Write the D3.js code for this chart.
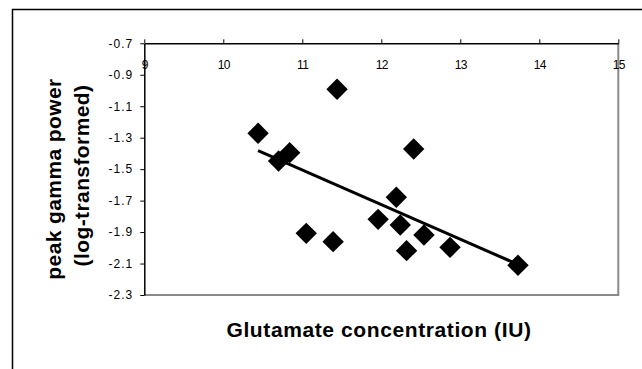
<!DOCTYPE html>
<html>
<head>
<meta charset="utf-8">
<script src="https://cdn.jsdelivr.net/npm/d3@7"></script>
<style>
  html, body { margin: 0; padding: 0; background: #fff; }
  svg { display: block; }
</style>
</head>
<body>
<svg id="chart" width="642" height="369"></svg>
<script>
// ---- data ----
const glutamate = [10.44, 10.70, 10.84, 11.44, 12.41, 11.05, 11.39, 12.19, 11.96, 12.24, 12.54, 12.32, 12.87, 13.73];
const gammaPower = [-1.272, -1.448, -1.395, -0.992, -1.372, -1.908, -1.961, -1.679, -1.819, -1.855, -1.919, -2.018, -1.997, -2.111];
const xTickValues = [9, 10, 11, 12, 13, 14, 15];
const xTickLabels = ["9", "10", "11", "12", "13", "14", "15"];
const yTickValues = [-0.7, -0.9, -1.1, -1.3, -1.5, -1.7, -1.9, -2.1, -2.3];
const yTickLabels = ["-0.7", "-0.9", "-1.1", "-1.3", "-1.5", "-1.7", "-1.9", "-2.1", "-2.3"];
const xTitle = "Glutamate concentration (IU)";
const yTitle1 = "peak gamma power";
const yTitle2 = "(log-transformed)";

(function () {
// ---- layout ----
const svg = d3.select("#chart");
const pL = 144.3, pR = 618.3, pT = 43.3, pB = 295;
const x = d3.scaleLinear().domain([9, 15]).range([pL, pR]);
const y = d3.scaleLinear().domain([-2.3, -0.7]).range([pB, pT]);
const font = "Arial, 'Liberation Sans', Helvetica, sans-serif";

// outer chart border
svg.append("path")
  .attr("d", `M12.5,369 L12.5,9.5 L642,9.5`)
  .attr("fill", "none").attr("stroke", "#000").attr("stroke-width", 1.5);

// plot area right/bottom border (grey)
svg.append("path")
  .attr("d", `M${pL},${pB} L${pR},${pB} L${pR},${pT}`)
  .attr("fill", "none").attr("stroke", "#8a8a8a").attr("stroke-width", 2);

// y axis
const yAxis = svg.append("g")
  .attr("transform", `translate(${pL},0)`)
  .call(d3.axisLeft(y).tickValues(yTickValues)
    .tickFormat((d, i) => yTickLabels[i]).tickSize(4).tickPadding(7).tickSizeOuter(0));
yAxis.select(".domain").attr("stroke", "#000").attr("stroke-width", 1.5);
yAxis.selectAll(".tick line").attr("stroke", "#000").attr("stroke-width", 1);
yAxis.selectAll("text").attr("font-family", font).attr("font-size", 12)
  .attr("letter-spacing", "1px").attr("fill", "#000");

// x axis (on top, labels inside)
const xAxis = svg.append("g")
  .attr("transform", `translate(0,${pT})`)
  .call(d3.axisTop(x).tickValues(xTickValues)
    .tickFormat((d, i) => xTickLabels[i]).tickSize(4).tickSizeOuter(0));
xAxis.select(".domain").attr("stroke", "#000").attr("stroke-width", 1.5);
xAxis.selectAll(".tick line").attr("stroke", "#000").attr("stroke-width", 1);
xAxis.selectAll("text").attr("font-family", font).attr("font-size", 12)
  .attr("letter-spacing", "-0.5px")
  .attr("y", 26).attr("dy", null).attr("fill", "#000");

// regression line computed from data
const mx = d3.mean(glutamate), my = d3.mean(gammaPower);
let sxy = 0, sxx = 0;
glutamate.forEach((gx, i) => { sxy += (gx - mx) * (gammaPower[i] - my); sxx += (gx - mx) * (gx - mx); });
const slope = sxy / sxx, icpt = my - slope * mx;
const [x0, x1] = d3.extent(glutamate);
svg.append("line")
  .attr("x1", x(x0)).attr("y1", y(icpt + slope * x0))
  .attr("x2", x(x1)).attr("y2", y(icpt + slope * x1))
  .attr("stroke", "#000").attr("stroke-width", 3);

// diamonds
const r = 10.7;
svg.append("g").selectAll("path")
  .data(glutamate.map((g, i) => [g, gammaPower[i]]))
  .join("path")
  .attr("d", d => {
    const cx = x(d[0]), cy = y(d[1]);
    return `M${cx},${cy - r} L${cx + r},${cy} L${cx},${cy + r} L${cx - r},${cy} Z`;
  })
  .attr("fill", "#000");

// axis titles
svg.append("text")
  .attr("x", 379).attr("y", 336.5)
  .attr("text-anchor", "middle")
  .attr("font-family", font).attr("font-weight", "bold").attr("font-size", 21)
  .attr("letter-spacing", "0.6px")
  .text(xTitle);

svg.append("text")
  .attr("transform", "translate(60.7,179) rotate(-90)")
  .attr("text-anchor", "middle")
  .attr("font-family", font).attr("font-weight", "bold").attr("font-size", 21)
  .attr("letter-spacing", "0.4px")
  .text(yTitle1);

svg.append("text")
  .attr("transform", "translate(89.3,175.5) rotate(-90)")
  .attr("text-anchor", "middle")
  .attr("font-family", font).attr("font-weight", "bold").attr("font-size", 21)
  .attr("letter-spacing", "0.4px")
  .text(yTitle2);
})();
</script>
</body>
</html>
